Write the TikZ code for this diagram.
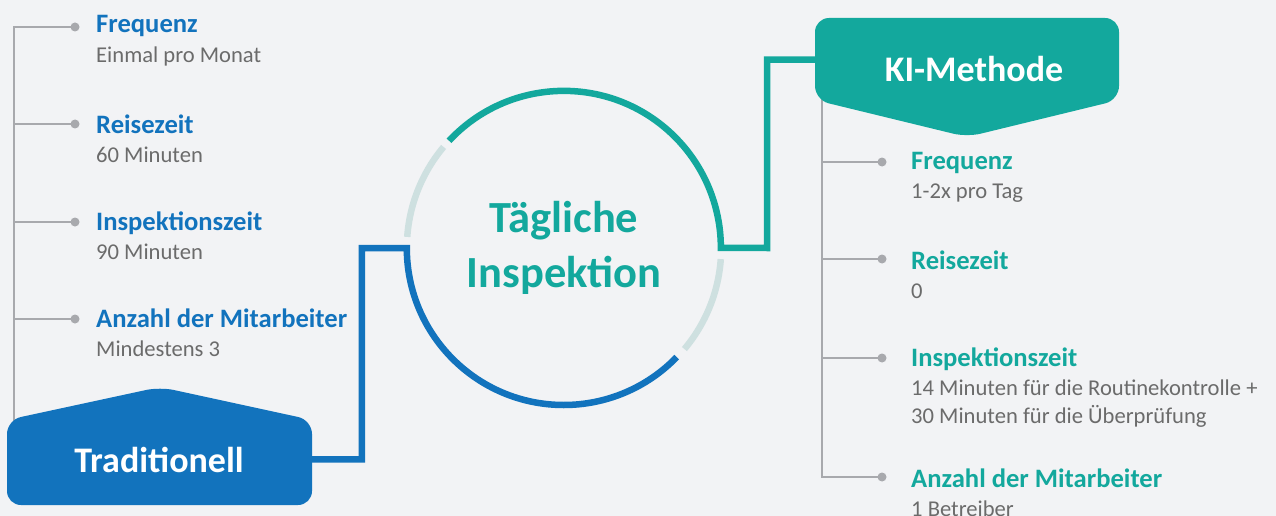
\documentclass[tikz,border=0pt]{standalone}
\usepackage{fontspec}
\setmainfont{Carlito}
\usetikzlibrary{positioning}

\definecolor{pagebg}{HTML}{F2F3F5}
\definecolor{tradblue}{HTML}{1273BD}
\definecolor{kiteal}{HTML}{13A89D}
\definecolor{ringgrey}{HTML}{CEE0E0}
\definecolor{branchgrey}{HTML}{A8A9AD}
\definecolor{notegrey}{HTML}{6B6B6B}

\begin{document}
\begin{tikzpicture}[x=1pt,y=-1pt,
  head/.style={anchor=base west,inner sep=0pt,font=\fontsize{26.6}{30}\selectfont\bfseries},
  note/.style={anchor=base west,inner sep=0pt,align=left,text=notegrey,font=\fontsize{22.6}{27.5}\selectfont},
  dot/.style={circle,fill=branchgrey,inner sep=0pt,minimum size=9pt},
  branch/.style={draw=branchgrey,line width=2.2pt,line cap=rect},
  arcline/.style={line width=6.5pt},
  boxlabel/.style={anchor=base,text=white,font=\fontsize{36}{40}\selectfont\bfseries}]

  \clip (0,0) rectangle (1276,516);
  \fill[pagebg] (0,0) rectangle (1276,516);

  % left list
  \coordinate (lspine) at (14,27);
  \draw[branch] (lspine) -- (14,440);
  \foreach \i/\y in {1/27,2/124,3/222,4/319}{
    \node[dot] (ldot\i) at (75,\y) {};
    \draw[branch] (lspine |- ldot\i) -- (ldot\i);
  }
  \node[head,text=tradblue] (lhead1) at (96,33) {Frequenz};
  \node[note,below=29.5pt of lhead1.base west,anchor=base west] (lnote1) {Einmal pro Monat};
  \node[head,text=tradblue] (lhead2) at (96,133) {Reisezeit};
  \node[note,below=29.5pt of lhead2.base west,anchor=base west] (lnote2) {60 Minuten};
  \node[head,text=tradblue] (lhead3) at (96,230) {Inspektionszeit};
  \node[note,below=29.5pt of lhead3.base west,anchor=base west] (lnote3) {90 Minuten};
  \node[head,text=tradblue] (lhead4) at (96,327) {Anzahl der Mitarbeiter};
  \node[note,below=29.5pt of lhead4.base west,anchor=base west] (lnote4) {Mindestens 3};

  % right list
  \coordinate (rspine) at (822,162);
  \draw[branch] (822,95) -- (822,477);
  \foreach \i/\y in {1/162,2/259,3/358,4/477}{
    \node[dot] (rdot\i) at (882,\y) {};
    \draw[branch] (rspine |- rdot\i) -- (rdot\i);
  }
  \node[head,text=kiteal] (rhead1) at (911,169) {Frequenz};
  \node[note,below=29.5pt of rhead1.base west,anchor=base west] (rnote1) {1-2x pro Tag};
  \node[head,text=kiteal] (rhead2) at (911,269) {Reisezeit};
  \node[note,below=29.5pt of rhead2.base west,anchor=base west] (rnote2) {0};
  \node[head,text=kiteal] (rhead3) at (911,366) {Inspektionszeit};
  \node[note,below=57pt of rhead3.base west,anchor=base west] (rnote3) {14 Minuten für die Routinekontrolle +\\30 Minuten für die Überprüfung};
  \node[head,text=kiteal] (rhead4) at (911,487) {Anzahl der Mitarbeiter};
  \node[note,below=29pt of rhead4.base west,anchor=base west] (rnote4) {1 Betreiber};

  % boxes
  \fill[tradblue,rounded corners=14pt] (7,460) -- (7,420) -- (160,387) -- (312,420) -- (312,505) -- (7,505) -- cycle;
  \node[boxlabel] (trad) at (159,472) {Traditionell};
  \fill[kiteal,rounded corners=14pt] (815,60) -- (815,18) -- (1119,18) -- (1119,100) -- (967,137) -- (815,100) -- cycle;
  \node[boxlabel] (ki) at (974,82) {KI-Methode};

  % ring
  \node[circle,minimum size=314pt,inner sep=0pt,align=center,text=kiteal,
    font=\fontsize{44.5}{55}\selectfont\bfseries] (ring) at (564,248) {Tägliche\\Inspektion};
  \draw[arcline,ringgrey] (ring.140) arc[start angle=140,end angle=176,radius=157pt];
  \draw[arcline,ringgrey] (ring.320) arc[start angle=320,end angle=356,radius=157pt];
  \draw[arcline,tradblue] (trad.east) -| ([xshift=-45pt]ring.west) -- (ring.west)
    arc[start angle=180,end angle=316,radius=157pt];
  \draw[arcline,kiteal] (ring.137) arc[start angle=137,end angle=0,radius=157pt]
    -- ([xshift=46pt]ring.east) |- ([yshift=10pt]ki.west);
\end{tikzpicture}
\end{document}
